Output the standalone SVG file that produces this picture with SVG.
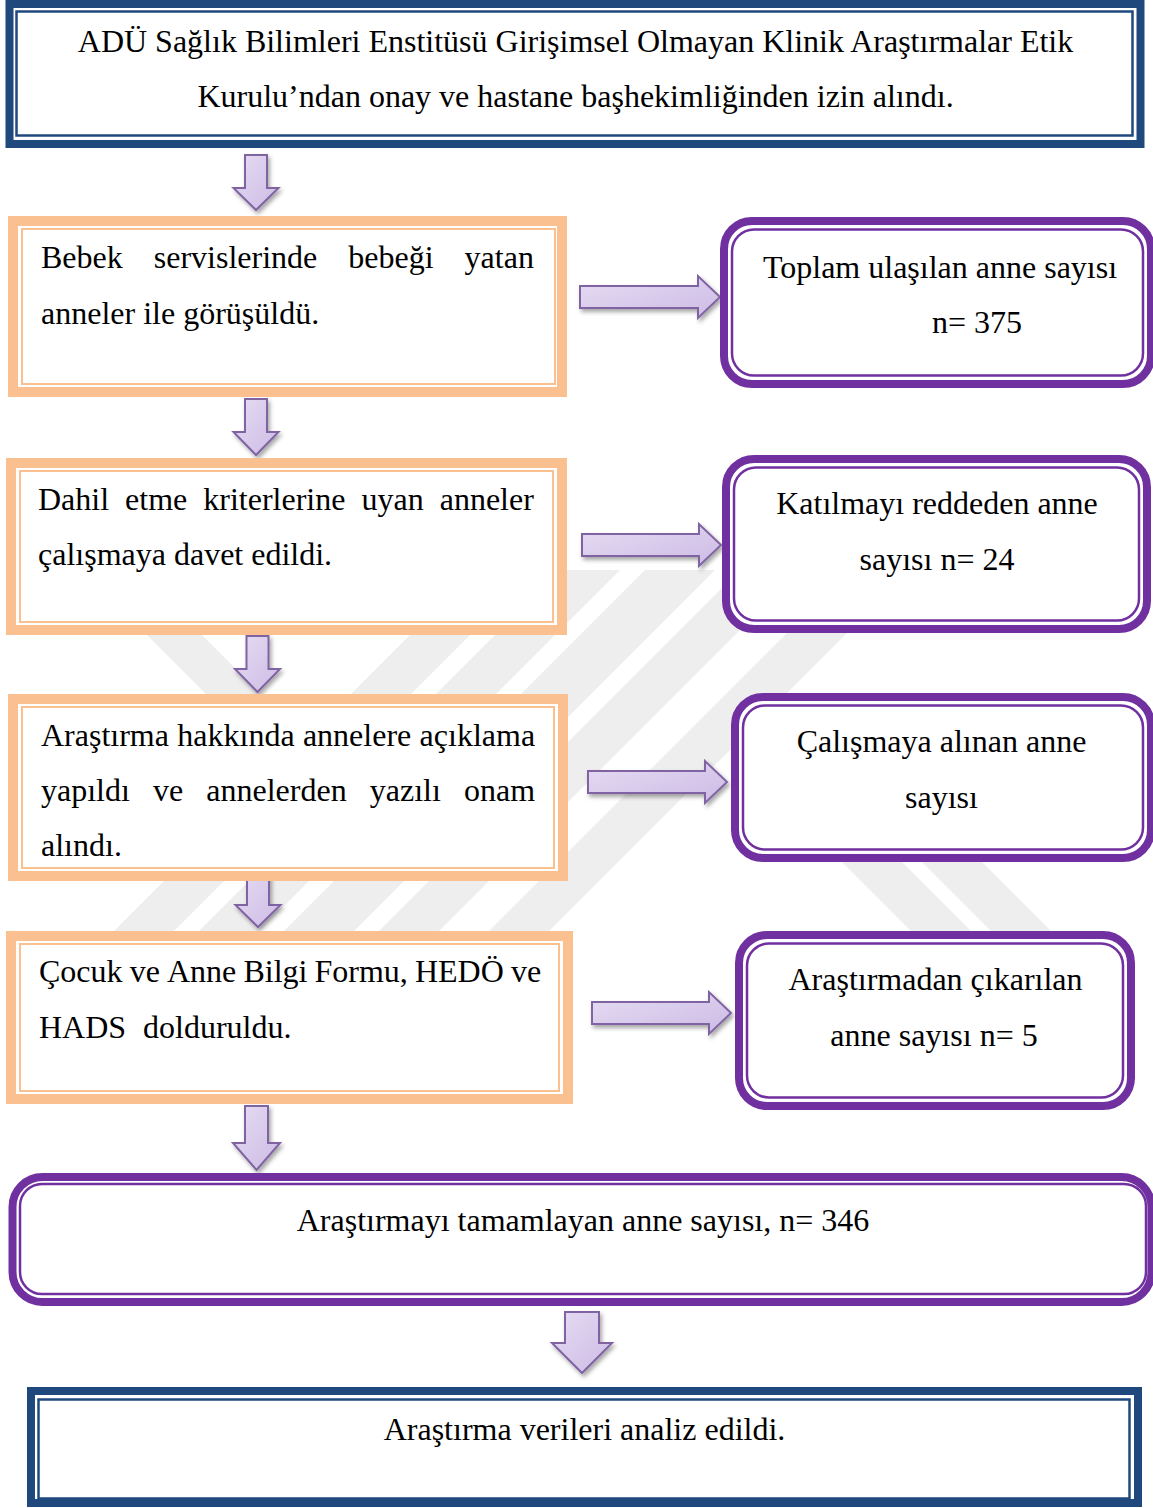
<svg xmlns="http://www.w3.org/2000/svg" width="1153" height="1508" viewBox="0 0 1153 1508">
<defs>
<style>
text{font-family:"Liberation Serif","Times New Roman",serif;font-size:32px;fill:#000}
.c{text-anchor:middle}
.bo{fill:#fff;stroke:#1f497d;stroke-width:8}
.bi{fill:none;stroke:#1f497d;stroke-width:2.5}
.oo{fill:#fff;stroke:#fac090;stroke-width:10}
.oi{fill:none;stroke:#fac090;stroke-width:2}
.po{fill:#fff;stroke:#7030a0;stroke-width:8}
.pi{fill:none;stroke:#7030a0;stroke-width:2.5}
.ar{fill:url(#ag);stroke:#8064a2;stroke-width:2;stroke-linejoin:miter;filter:url(#sh)}
.wm{fill:#eeeeee}
</style>
<linearGradient id="ag" x1="0" y1="0" x2="1" y2="1">
<stop offset="0" stop-color="#e6dcf3"/>
<stop offset="1" stop-color="#cdbbe5"/>
</linearGradient>
<filter id="sh" x="-30%" y="-30%" width="160%" height="160%">
<feDropShadow dx="2" dy="3" stdDeviation="2" flood-color="#000" flood-opacity="0.35"/>
</filter>
</defs>
<rect width="1153" height="1508" fill="#fff"/>

<g id="watermark">
<polygon class="wm" points="475,570 535,570 170,935 110,935"/>
<polygon class="wm" points="560,570 620,570 255,935 195,935"/>
<polygon class="wm" points="645,570 715,570 350,935 280,935"/>
<polygon class="wm" points="740,570 800,570 435,935 375,935"/>
<polygon class="wm" points="850,570 910,570 545,935 485,935"/>
<polygon class="wm" points="112,600 167,600 327,760 272,760"/>
<polygon class="wm" points="700,720 760,720 975,935 915,935"/>
<polygon class="wm" points="780,720 840,720 1055,935 995,935"/>
</g>

<g id="connectors">
<path class="ar" d="M245,155 H267 V188 H278.5 L256,210 L233.5,188 H245 Z"/>
<path class="ar" d="M245,399 H267 V432 H278.5 L256,455 L233.5,432 H245 Z"/>
<path class="ar" d="M246.5,636 H268.5 V669 H280 L257.5,692 L235,669 H246.5 Z"/>
<path class="ar" d="M247,872 H269 V905 H280.5 L258,927 L235.5,905 H247 Z"/>
<path class="ar" d="M245,1106 H268 V1143 H280 L256.5,1170 L233,1143 H245 Z"/>
<path class="ar" d="M565,1312 H599 V1343 H612 L582,1373 L552,1343 H565 Z"/>
<path class="ar" d="M580,286 H698 V276 L720,297 L698,318 V308 H580 Z"/>
<path class="ar" d="M582,534 H699 V524 L721,545 L699,566 V556 H582 Z"/>
<path class="ar" d="M588,771 H705 V761 L727,782 L705,803 V793 H588 Z"/>
<path class="ar" d="M592,1002 H709 V992 L731,1013 L709,1034 V1024 H592 Z"/>
</g>

<g id="n-etik">
<rect class="bo" x="9.5" y="4" width="1131" height="140"/>
<rect class="bi" x="16.5" y="11.5" width="1116" height="124"/>
<text class="c" x="575.5" y="52">ADÜ Sağlık Bilimleri Enstitüsü Girişimsel Olmayan Klinik Araştırmalar Etik</text>
<text class="c" x="575.5" y="107">Kurulu’ndan onay ve hastane başhekimliğinden izin alındı.</text>
</g>

<g id="n-bebek">
<rect class="oo" x="13" y="221" width="549" height="171"/>
<rect class="oi" x="22" y="229" width="533" height="155"/>
<text y="268"><tspan x="41">Bebek</tspan><tspan x="153.8">servislerinde</tspan><tspan x="348.3">bebeği</tspan><tspan x="464.6">yatan</tspan></text>
<text x="41" y="324">anneler ile görüşüldü.</text>
</g>

<g id="n-toplam">
<rect class="po" x="724" y="221" width="427" height="163" rx="28"/>
<rect class="pi" x="732" y="229.5" width="411" height="146" rx="22"/>
<text class="c" x="940" y="278">Toplam ulaşılan anne sayısı</text>
<text x="932" y="333">n= 375</text>
</g>

<g id="n-dahil">
<rect class="oo" x="11" y="463" width="551" height="167"/>
<rect class="oi" x="20" y="471" width="533" height="151"/>
<text y="510"><tspan x="38">Dahil</tspan><tspan x="125.1">etme</tspan><tspan x="203.3">kriterlerine</tspan><tspan x="361.5">uyan</tspan><tspan x="439.7">anneler</tspan></text>
<text x="38" y="565">çalışmaya davet edildi.</text>
</g>

<g id="n-red">
<rect class="po" x="726" y="459" width="421" height="170" rx="28"/>
<rect class="pi" x="734" y="467.5" width="405" height="153" rx="22"/>
<text class="c" x="937" y="514">Katılmayı reddeden anne</text>
<text class="c" x="937" y="570">sayısı n= 24</text>
</g>

<g id="n-aciklama">
<rect class="oo" x="13" y="699" width="550" height="177"/>
<rect class="oi" x="22" y="707" width="532" height="161"/>
<text y="746"><tspan x="41">Araştırma</tspan><tspan x="177.3">hakkında</tspan><tspan x="302.9">annelere</tspan><tspan x="419.6">açıklama</tspan></text>
<text y="801"><tspan x="41">yapıldı</tspan><tspan x="153">ve</tspan><tspan x="206.3">annelerden</tspan><tspan x="369.8">yazılı</tspan><tspan x="464">onam</tspan></text>
<text x="41" y="856">alındı.</text>
</g>

<g id="n-alinan">
<rect class="po" x="735" y="697" width="416" height="161" rx="28"/>
<rect class="pi" x="743" y="705.5" width="400" height="144" rx="22"/>
<text class="c" x="941.5" y="752">Çalışmaya alınan anne</text>
<text class="c" x="941.5" y="808">sayısı</text>
</g>

<g id="n-form">
<rect class="oo" x="11" y="936" width="557" height="163"/>
<rect class="oi" x="20" y="944" width="539" height="147"/>
<text y="982"><tspan x="39">Çocuk</tspan><tspan x="129.7">ve</tspan><tspan x="167">Anne</tspan><tspan x="243.4">Bilgi</tspan><tspan x="314.5">Formu,</tspan><tspan x="414.9">HEDÖ</tspan><tspan x="510.9">ve</tspan></text>
<text y="1038"><tspan x="39">HADS</tspan><tspan x="143">dolduruldu.</tspan></text>
</g>

<g id="n-cikarilan">
<rect class="po" x="739" y="935" width="392" height="171" rx="28"/>
<rect class="pi" x="747" y="943.5" width="376" height="154" rx="22"/>
<text class="c" x="935.5" y="990">Araştırmadan çıkarılan</text>
<text class="c" x="934" y="1046">anne sayısı n= 5</text>
</g>

<g id="n-tamamlayan">
<rect class="po" x="12.5" y="1177" width="1139" height="125" rx="30"/>
<rect class="pi" x="20" y="1184" width="1126" height="110" rx="22"/>
<text class="c" x="583" y="1231">Araştırmayı tamamlayan anne sayısı, n= 346</text>
</g>

<g id="n-analiz">
<rect class="bo" x="31" y="1391" width="1107" height="112"/>
<rect class="bi" x="38.5" y="1399.5" width="1091" height="99"/>
<text class="c" x="584.5" y="1440">Araştırma verileri analiz edildi.</text>
</g>
</svg>
